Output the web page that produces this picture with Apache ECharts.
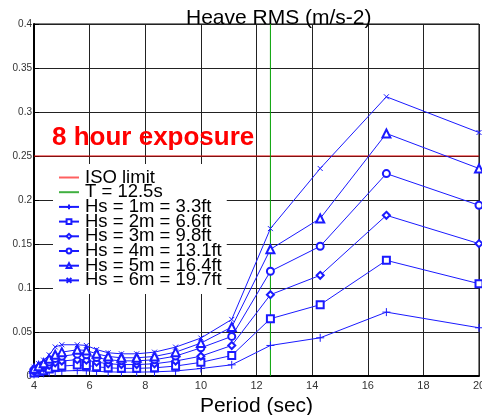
<!DOCTYPE html>
<html>
<head>
<meta charset="utf-8">
<script src="https://cdn.jsdelivr.net/npm/echarts@6/dist/echarts.min.js"></script>
<style>html,body{margin:0;padding:0;background:#fff}#c{width:482px;height:415px}</style>
</head>
<body>
<div id="c"></div>
<script>
const periods = [4.0, 4.167, 4.348, 4.545, 4.762, 5.0, 5.556, 5.882, 6.25, 6.667, 7.143, 7.692, 8.333, 9.091, 10, 11.11, 12.5, 14.29, 16.67, 20];
const hs1 = [0.0018, 0.0024, 0.003, 0.004, 0.005, 0.0057, 0.0062, 0.006, 0.0053, 0.0047, 0.0044, 0.0044, 0.0047, 0.0057, 0.0085, 0.0127, 0.0347, 0.0434, 0.0726, 0.0548];
const hs2 = [0.0035, 0.0047, 0.006, 0.008, 0.010, 0.0113, 0.0124, 0.012, 0.0105, 0.0093, 0.0087, 0.0087, 0.0093, 0.0113, 0.0155, 0.0233, 0.0651, 0.081, 0.1314, 0.1049];
const hs3 = [0.0052, 0.007, 0.009, 0.012, 0.015, 0.017, 0.0186, 0.018, 0.0158, 0.0139, 0.013, 0.013, 0.0139, 0.017, 0.0225, 0.0347, 0.0924, 0.1144, 0.1826, 0.1504];
const hs4 = [0.0068, 0.0092, 0.012, 0.016, 0.020, 0.0225, 0.0248, 0.0242, 0.021, 0.0185, 0.0172, 0.0172, 0.0185, 0.0226, 0.032, 0.045, 0.119, 0.1474, 0.230, 0.194];
const hs5 = [0.0082, 0.0112, 0.0146, 0.0195, 0.0241, 0.0271, 0.0298, 0.0290, 0.0252, 0.0222, 0.0207, 0.0207, 0.0222, 0.0271, 0.0374, 0.0556, 0.144, 0.179, 0.2756, 0.2358];
const hs6 = [0.010, 0.014, 0.018, 0.024, 0.033, 0.0355, 0.0355, 0.0347, 0.030, 0.0264, 0.0252, 0.0252, 0.0271, 0.0328, 0.0431, 0.0643, 0.1675, 0.2358, 0.3173, 0.2767];
const seriesNames = ['Hs = 1m = 3.3ft', 'Hs = 2m = 6.6ft', 'Hs = 3m = 9.8ft', 'Hs = 4m = 13.1ft', 'Hs = 5m = 16.4ft', 'Hs = 6m = 19.7ft'];
const isoLimit = 0.25;
const tPeriod = 12.5;
const xMin = 4, xMax = 20, xStep = 2;
const yMin = 0, yMax = 0.4, yStep = 0.05;

const FONT = "'Liberation Sans', Arial, sans-serif";
const BLUE = '#1a1aff';
const symbols = [
  'path://M5,0L5,10M0,5L10,5',
  'emptyRect', 'emptyDiamond', 'emptyCircle', 'emptyTriangle',
  'path://M0,0L10,10M10,0L0,10'
];
const sizes = [8, 7, 7, 7, 8, 5];
const allVals = [hs1, hs2, hs3, hs4, hs5, hs6];

const series = [
  {
    name: 'ISO limit', type: 'line', symbol: 'none',
    data: [[xMin, isoLimit], [xMax, isoLimit]],
    lineStyle: {color: '#dd0000', width: 1}, itemStyle: {color: '#dd0000'},
    z: 3, silent: true
  },
  {
    name: 'T = 12.5s', type: 'line', symbol: 'none',
    data: [[tPeriod, yMin], [tPeriod, yMax]],
    lineStyle: {color: '#00a000', width: 1}, itemStyle: {color: '#00a000'},
    z: 3, silent: true
  }
];
allVals.forEach((vals, i) => {
  series.push({
    name: seriesNames[i], type: 'line',
    data: periods.map((p, j) => [p, vals[j]]),
    symbol: symbols[i], symbolSize: sizes[i],
    showAllSymbol: true,
    lineStyle: {color: BLUE, width: 1},
    itemStyle: {color: BLUE, borderColor: BLUE, borderWidth: 1},
    z: 4, silent: true
  });
});

const legendData = [
  {name: 'ISO limit', itemStyle: {opacity: 0}, lineStyle: {color: '#ff6060'}},
  {name: 'T = 12.5s', itemStyle: {opacity: 0}, lineStyle: {color: '#40b040'}}
].concat(seriesNames.map(n => ({name: n})));

const chart = echarts.init(document.getElementById('c'), null, {renderer: 'canvas'});
chart.setOption({
  animation: false,
  backgroundColor: '#fff',
  title: {
    text: 'Heave RMS (m/s-2)', left: 186, top: 8, padding: 0,
    textStyle: {fontFamily: FONT, fontSize: 21, fontWeight: 'normal', color: '#000'}
  },
  grid: {left: 34, right: 3, top: 24, bottom: 39, show: true, borderColor: '#000', borderWidth: 1, backgroundColor: 'transparent', outerBoundsMode: 'none', containLabel: false},
  legend: {
    orient: 'vertical', left: 53, top: 164, padding: [4, 5, 4, 5],
    backgroundColor: '#fff',
    itemWidth: 20, itemHeight: 6, itemGap: -4.3,
    selectedMode: false,
    data: legendData,
    textStyle: {fontFamily: FONT, fontSize: 18.5, color: '#000', padding: [0, 0, 0, 1]}
  },
  xAxis: {
    type: 'value', min: xMin, max: xMax, interval: xStep,
    name: 'Period (sec)', nameLocation: 'middle', nameGap: 8,
    nameTextStyle: {fontFamily: FONT, fontSize: 21, color: '#000', verticalAlign: 'top'},
    axisLine: {show: true, onZero: false, lineStyle: {color: '#000', width: 2}},
    axisTick: {show: false},
    axisLabel: {fontFamily: FONT, fontSize: 11, color: '#333', margin: 4},
    splitLine: {show: true, lineStyle: {color: '#222', width: 1}}
  },
  yAxis: {
    type: 'value', min: yMin, max: yMax, interval: yStep,
    axisLine: {show: true, onZero: false, lineStyle: {color: '#000', width: 2}},
    axisTick: {show: true, inside: true, length: 5, lineStyle: {color: '#000'}},
    axisLabel: {fontFamily: FONT, fontSize: 10, color: '#333', margin: 2},
    splitLine: {show: true, lineStyle: {color: '#222', width: 1}}
  },
  graphic: [{
    type: 'text', left: 52, top: 125, z: 10,
    style: {text: '8 hour exposure', fill: '#ff0000', font: "bold 26px 'Liberation Sans', Arial, sans-serif"}
  }],
  series: series
});
</script>
</body>
</html>
